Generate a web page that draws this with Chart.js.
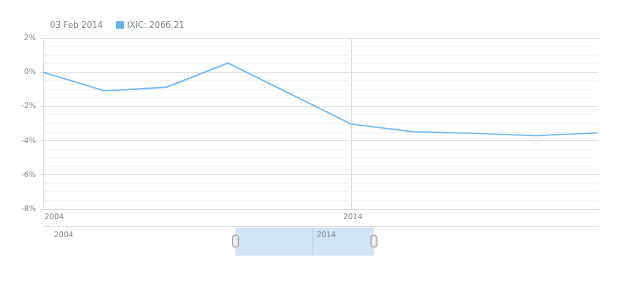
<!DOCTYPE html>
<html>
<head>
<meta charset="utf-8">
<script src="https://cdn.jsdelivr.net/npm/chart.js@4.4.1/dist/chart.umd.min.js"></script>
<style>
    body { margin: 0; background: #fff; }
    #wrap { position: relative; width: 620px; height: 300px; font-family: 'DejaVu Sans', sans-serif; }
    #mainChart, #scrollChart { position: absolute; left: 0; }
    #mainChart { top: 0; }
    #scrollChart { top: 220px; }
    .legend { position: absolute; top: 19px; font-size: 8.5px; color: #7c868e; white-space: nowrap; line-height: 12px; }
    .marker { position: absolute; top: 21px; left: 116px; width: 8px; height: 8px; background: #64b5f6; border-radius: 1px; }
</style>
</head>
<body>
<div id="wrap">
    <canvas id="mainChart" width="620" height="220"></canvas>
    <canvas id="scrollChart" width="620" height="50"></canvas>
    <span class="legend" style="left:50px">03 Feb 2014</span>
    <span class="marker"></span>
    <span class="legend" style="left:127px">IXIC: 2066.21</span>
</div>
<script>
// Percent change of IXIC
const years = [2004, 2006, 2008, 2010, 2014, 2016, 2018, 2020, 2022];
const percentChange = [0, -1.09, -0.88, 0.53, -3.04, -3.48, -3.58, -3.71, -3.55];
const xTickYears = [2004, 2014, 2022];
const scrollerTickYears = [2004, 2014];

// scroller range and the selected window
const scrollerStart = 2003.75;
const scrollerEnd = 2024.88;
const selectStart = 2011.08;
const selectEnd = 2016.35;

const labelColor = '#7c868e';
const tickFont = { family: 'DejaVu Sans', size: 7.6 };

new Chart(document.getElementById('mainChart'), {
    type: 'line',
    data: {
        datasets: [{
            label: 'IXIC',
            data: years.map((y, i) => ({ x: y, y: percentChange[i] })),
            borderColor: '#6cb8f5',
            borderWidth: 1.4,
            pointRadius: 0,
            tension: 0,
            fill: false
        }]
    },
    options: {
        responsive: false,
        animation: false,
        layout: { padding: { top: 38, right: 22, bottom: 0, left: 0 } },
        plugins: { legend: { display: false }, tooltip: { enabled: false } },
        scales: {
            x: {
                type: 'linear',
                min: 2004,
                max: 2022,
                afterBuildTicks: s => { s.ticks = xTickYears.map(v => ({ value: v })); },
                afterFit: s => { s.height = 11; },
                grid: {
                    drawTicks: false,
                    color: c => (c.tick && c.tick.value === 2014) ? '#dcdcdc' : 'rgba(0,0,0,0)'
                },
                border: { display: true, color: '#dcdcdc' },
                ticks: {
                    autoSkip: false,
                    maxRotation: 0,
                    align: 'inner',
                    labelOffset: 1.5,
                    padding: 3,
                    color: labelColor,
                    font: tickFont,
                    callback: v => (v === 2022 ? '' : String(v))
                }
            },
            y: {
                min: -8,
                max: 2,
                afterFit: s => { s.width = 43; },
                grid: {
                    tickLength: 3,
                    color: c => (c.tick && c.tick.value % 2 === 0) ? '#e2e2e2' : '#f2f2f2',
                    tickColor: c => (c.tick && c.tick.value % 2 === 0) ? '#dcdcdc' : 'rgba(0,0,0,0)'
                },
                border: { display: true, color: '#dcdcdc' },
                ticks: {
                    stepSize: 0.5,
                    autoSkip: false,
                    padding: 4,
                    color: labelColor,
                    font: tickFont,
                    callback: v => (v % 2 === 0 ? v + '%' : '')
                }
            }
        }
    }
});

// scroller: selected window drawn behind labels, handles on top
const scrollerPlugin = {
    id: 'scrollerWindow',
    beforeDraw(chart) {
        const c = chart.ctx, x = chart.scales.x;
        const x0 = x.getPixelForValue(selectStart), x1 = x.getPixelForValue(selectEnd);
        const top = chart.chartArea.bottom + 1, bottom = top + 28;
        c.save();
        c.fillStyle = 'rgba(25,118,210,0.2)';
        c.fillRect(x0, top, x1 - x0, bottom - top);
        c.strokeStyle = 'rgba(0,0,0,0.06)';
        c.beginPath();
        const gx = Math.round(x.getPixelForValue(2014)) + 0.5;
        c.moveTo(gx, top); c.lineTo(gx, bottom);
        c.stroke();
        c.restore();
    },
    afterDraw(chart) {
        const c = chart.ctx, x = chart.scales.x;
        const cy = chart.chartArea.bottom + 14.5;
        [selectStart, selectEnd].forEach(v => {
            const px = x.getPixelForValue(v);
            c.save();
            c.fillStyle = '#e4e4e4';
            c.strokeStyle = '#9aa0a6';
            c.lineWidth = 1;
            c.beginPath();
            c.roundRect(px - 3, cy - 6, 6, 12, 2.5);
            c.fill();
            c.stroke();
            c.strokeStyle = '#ffffff';
            c.beginPath();
            c.moveTo(px - 0.5, cy - 3.5); c.lineTo(px - 0.5, cy + 3.5);
            c.stroke();
            c.restore();
        });
    }
};

new Chart(document.getElementById('scrollChart'), {
    type: 'line',
    data: { datasets: [] },
    options: {
        responsive: false,
        animation: false,
        layout: { padding: { top: 0, right: 22, bottom: 0, left: 43 } },
        plugins: { legend: { display: false }, tooltip: { enabled: false } },
        scales: {
            x: {
                type: 'linear',
                min: scrollerStart,
                max: scrollerEnd,
                afterBuildTicks: s => { s.ticks = scrollerTickYears.map(v => ({ value: v })); },
                afterFit: s => { s.height = 43.3; },
                grid: { display: false, drawTicks: false },
                border: { display: true, color: '#e0e0e0' },
                ticks: {
                    autoSkip: false,
                    maxRotation: 0,
                    align: 'start',
                    labelOffset: 4.4,
                    padding: 4,
                    color: labelColor,
                    font: tickFont,
                    callback: v => String(v)
                }
            },
            y: { display: false, min: 0, max: 1 }
        }
    },
    plugins: [scrollerPlugin]
});
</script>
</body>
</html>
